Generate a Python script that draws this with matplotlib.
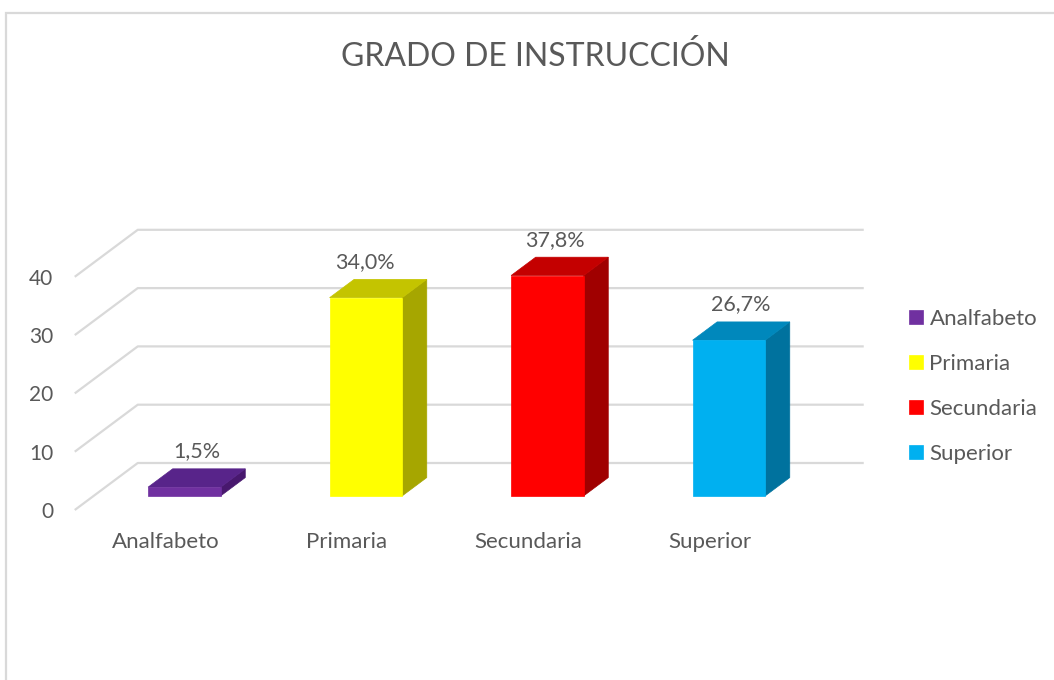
import matplotlib
matplotlib.use("Agg")
import matplotlib.pyplot as plt
from matplotlib.patches import Polygon, Rectangle

# ---- data ----
categories = ["Analfabeto", "Primaria", "Secundaria", "Superior"]
values = [1.5, 34.0, 37.8, 26.7]
value_labels = ["1,5%", "34,0%", "37,8%", "26,7%"]
y_ticks = [0, 10, 20, 30, 40]
title = "GRADO DE INSTRUCCIÓN"

# ---- style ----
front_colors = ["#7030A0", "#FFFF00", "#FF0000", "#00B0F0"]
top_colors = ["#58248A", "#C4C400", "#C40000", "#0088BC"]
side_colors = ["#48186E", "#A6A600", "#A00000", "#00729E"]
label_dx_px = [0, -13, -5, 0]
text_color = "#595959"
grid_color = "#D9D9D9"
FONT = "Lato"

W, H = 1054, 680
fig = plt.figure(figsize=(W / 100, H / 100), dpi=100)
ax = fig.add_axes([0, 0, 1, 1])
ax.set_axis_off()

# pixel geometry of the chart's scales
x0_px, x_step_px = 165.5, 181.5      # category 0 front position, spacing
y0_px, y_unit_px = 510.0, 5.83       # value 0 front position (from top), px per unit
ax.set_xlim(-x0_px / x_step_px, (W - x0_px) / x_step_px)
ax.set_ylim((y0_px - H) / y_unit_px, y0_px / y_unit_px)

DX = 63 / x_step_px   # depth shift in category units
DY = 47 / y_unit_px   # depth shift in value units


def proj(x, v, z):
    return (x + z * DX, v + z * DY)


xmin_cat, xmax_cat = -0.5, len(categories) - 0.5

# back wall + side wall gridlines
for t in y_ticks:
    pts = [proj(xmin_cat, t, 0), proj(xmin_cat, t, 1), proj(xmax_cat, t, 1)]
    ax.plot([p[0] for p in pts], [p[1] for p in pts], color=grid_color,
            lw=1.6, solid_capstyle="butt", zorder=1)
    fx, fy = proj(xmin_cat, t, 0)
    ax.annotate(str(t), (fx, fy), xytext=(-15.5, -1.5), textcoords="offset points",
                ha="right", va="center", fontsize=15, color=text_color,
                family=FONT)

# bars
zf, zb, hw = 0.30, 0.69, 0.2
handles = []
for i, (v, cf, ct, cs) in enumerate(zip(values, front_colors, top_colors, side_colors)):
    front = [proj(i - hw, 0, zf), proj(i + hw, 0, zf), proj(i + hw, v, zf), proj(i - hw, v, zf)]
    top = [proj(i - hw, v, zf), proj(i + hw, v, zf), proj(i + hw, v, zb), proj(i - hw, v, zb)]
    side = [proj(i + hw, 0, zf), proj(i + hw, 0, zb), proj(i + hw, v, zb), proj(i + hw, v, zf)]
    ps = Polygon(side, closed=True, facecolor=cs, edgecolor=cs, lw=0.5, zorder=3)
    pt = Polygon(top, closed=True, facecolor=ct, edgecolor=ct, lw=0.5, zorder=3)
    pf = Polygon(front, closed=True, facecolor=cf, edgecolor=cf, lw=0.5, zorder=4,
                 label=categories[i])
    for p in (ps, pt, pf):
        ax.add_patch(p)
    handles.append(pf)
    # data label above bar
    lx, _ = proj(i, v, (zf + zb) / 2)
    _, by = proj(i, v, zb)
    ax.annotate(value_labels[i], (lx, by), xytext=(label_dx_px[i] * 0.72, 12.5),
                textcoords="offset points", ha="center", va="center",
                fontsize=15.5, color=text_color, family=FONT, zorder=5)
    # category label
    cx, cy = proj(i, 0, 0)
    ax.annotate(categories[i], (cx, cy), xytext=(0, -27.5), textcoords="offset points",
                ha="center", va="baseline", fontsize=16, color=text_color,
                family=FONT)

# legend
leg = ax.legend(handles=handles, loc="upper left",
                bbox_to_anchor=(909 / W, 1 - 309 / H), bbox_transform=fig.transFigure,
                frameon=False, borderpad=0, borderaxespad=0,
                handlelength=0.62, handleheight=0.62, handletextpad=0.3,
                labelspacing=1.12, prop={"family": FONT, "size": 16})
for t in leg.get_texts():
    t.set_color(text_color)

# title
fig.text(535 / W, 1 - 57 / H, title, ha="center", va="center", fontsize=23,
         color=text_color, family=FONT)

# chart border
fig.add_artist(Rectangle((6 / W, -0.1), 1.2, 1 - 13 / H + 0.1,
                         transform=fig.transFigure, fill=False,
                         edgecolor=grid_color, lw=1.6))

fig.savefig("out.png", dpi=100)
